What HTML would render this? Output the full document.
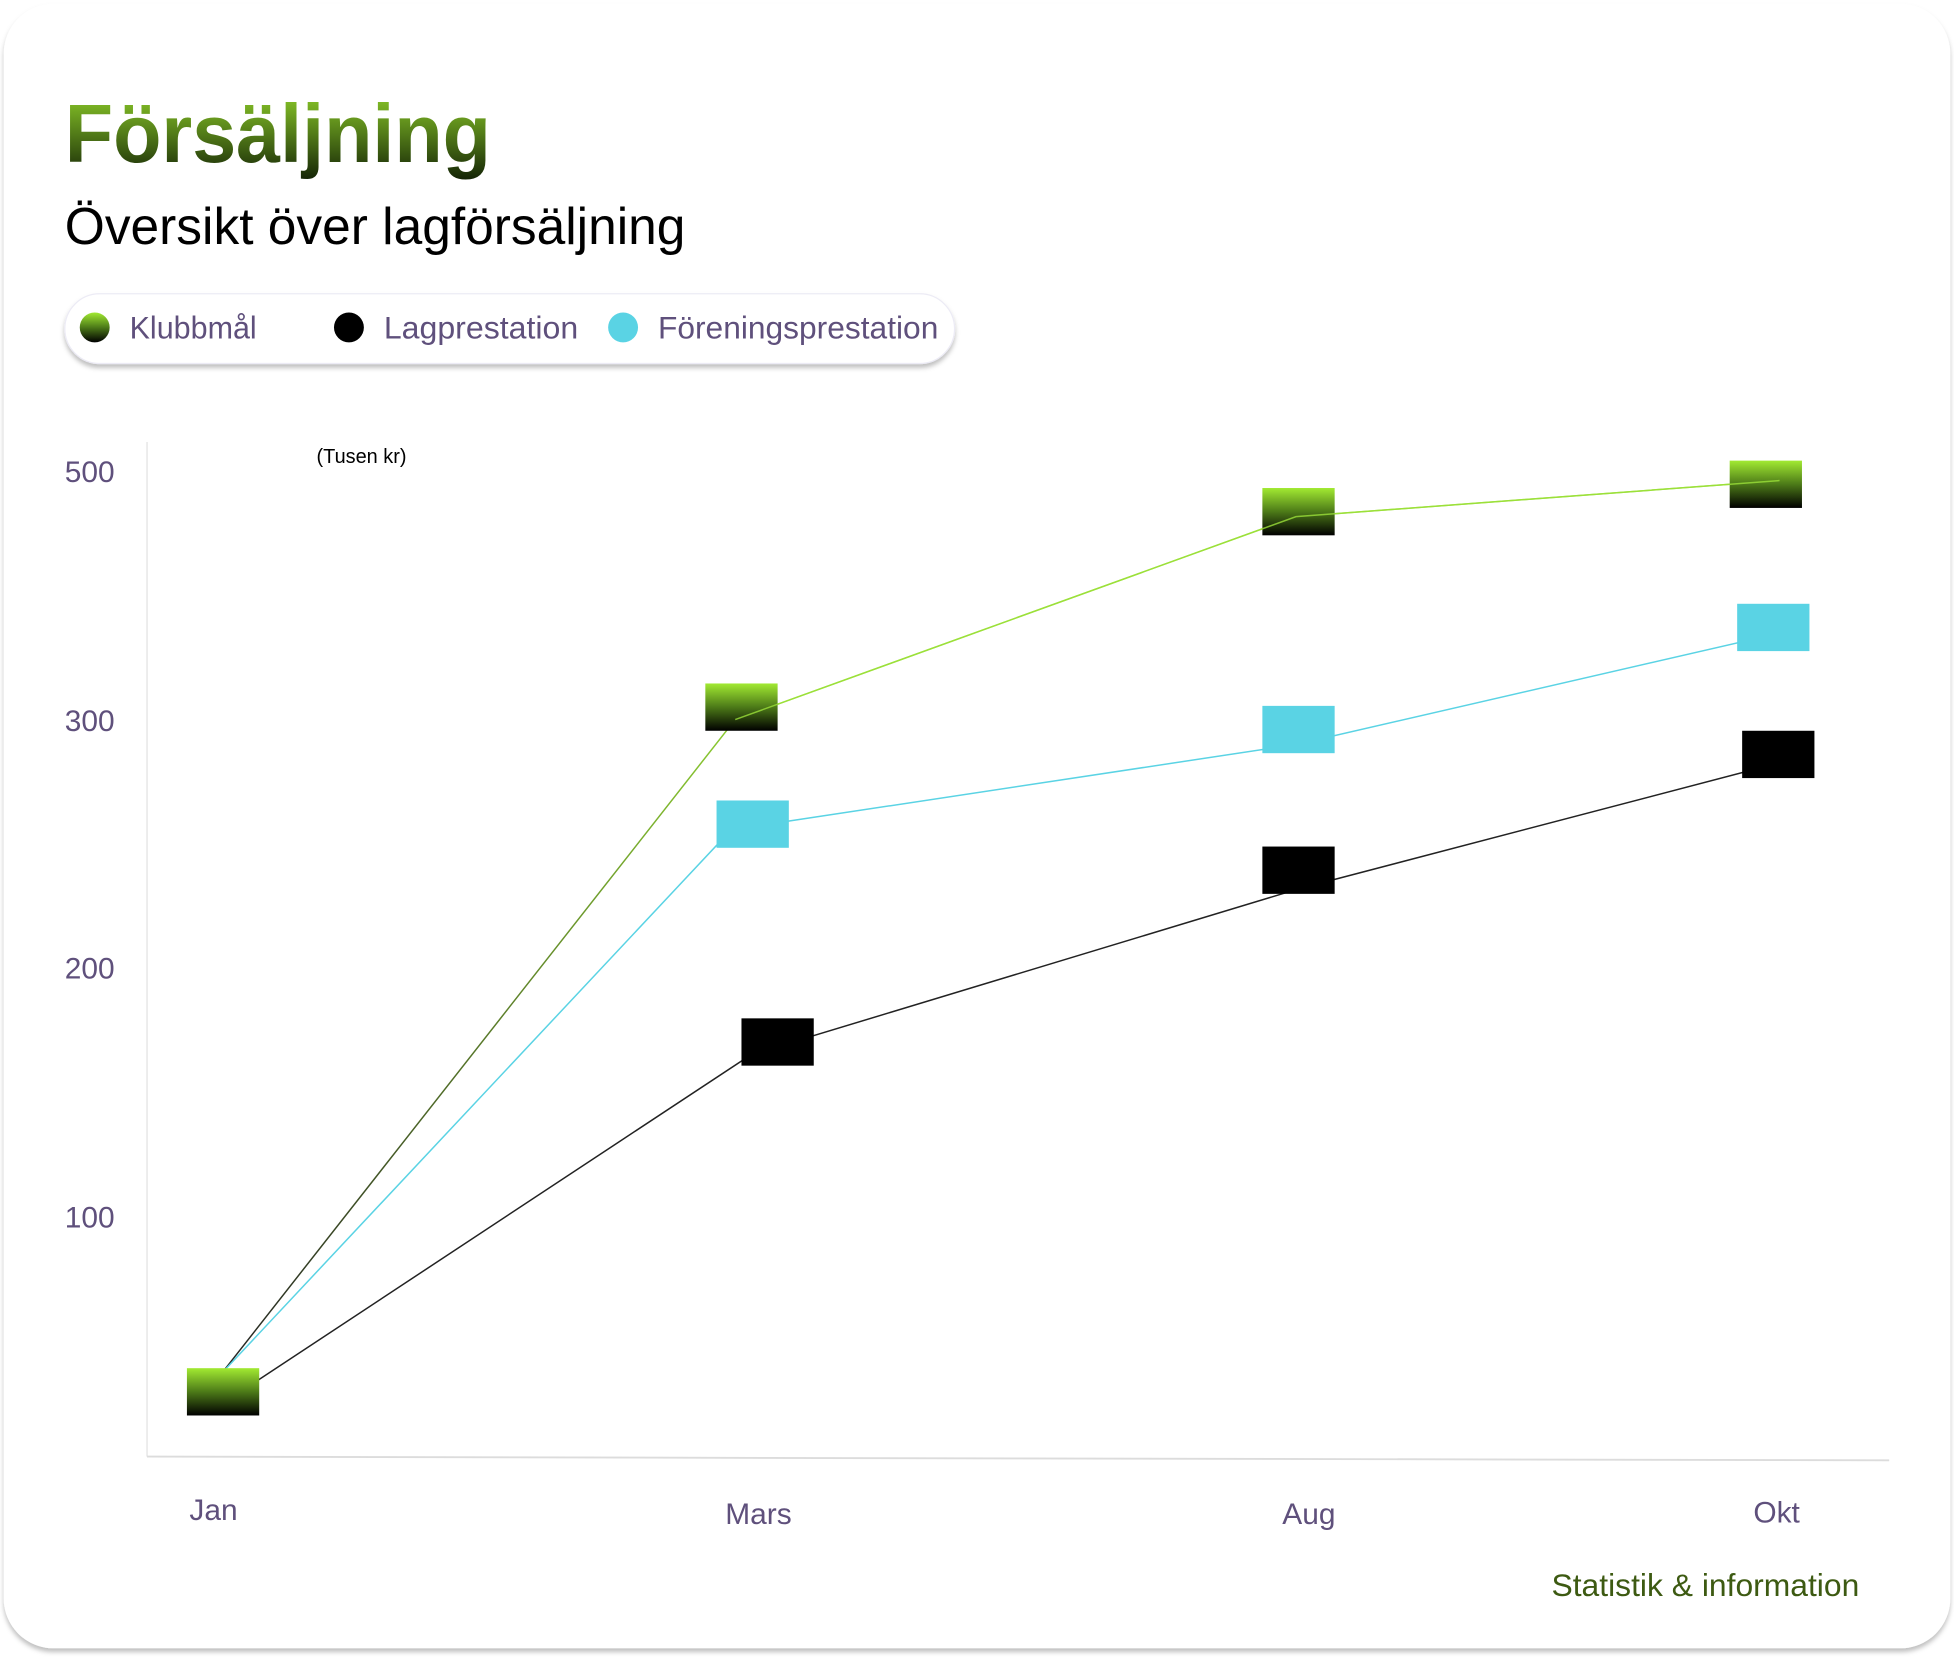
<!DOCTYPE html>
<html><head><meta charset="utf-8"><style>
html,body{margin:0;padding:0;background:#fff;width:1954px;height:1657px;overflow:hidden}
svg{display:block}
text{font-family:"Liberation Sans",sans-serif}
</style></head><body>
<svg width="1954" height="1657" viewBox="0 0 1568 1331" preserveAspectRatio="none" xmlns="http://www.w3.org/2000/svg">
<defs>
<linearGradient id="g" x1="0" y1="0" x2="0" y2="1"><stop offset="0" stop-color="#a2ea32"/><stop offset="0.5" stop-color="#4c7a18"/><stop offset="1" stop-color="#000"/></linearGradient>
<linearGradient id="tg" x1="0" y1="0" x2="0" y2="1"><stop offset="0" stop-color="#8fd02a"/><stop offset="1" stop-color="#142406"/></linearGradient>
<linearGradient id="lg" x1="0" y1="1" x2="0" y2="0"><stop offset="0" stop-color="#222"/><stop offset="1" stop-color="#8ccc30"/></linearGradient>
<filter id="sh" x="-10%" y="-10%" width="120%" height="130%"><feDropShadow dx="0" dy="3" stdDeviation="2" flood-color="#000" flood-opacity="0.25"/></filter>
</defs>
<rect x="3" y="3" width="1562" height="1321" rx="40" fill="#fff" filter="url(#sh)"/>
<text x="52" y="130" font-size="66" font-weight="bold" fill="url(#tg)" textLength="342" lengthAdjust="spacingAndGlyphs">Försäljning</text>
<text x="52" y="196" font-size="42" fill="#000" textLength="498" lengthAdjust="spacingAndGlyphs">Översikt över lagförsäljning</text>
<rect x="52" y="236" width="714" height="56" rx="28" fill="#fff" stroke="#ecebf5" filter="url(#sh)"/>
<circle cx="76" cy="263" r="12" fill="url(#g)"/>
<circle cx="280" cy="263" r="12" fill="#000"/>
<circle cx="500" cy="263" r="12" fill="#5ad3e4"/>
<g font-size="25" fill="#5f507c">
<text x="104" y="272" textLength="102" lengthAdjust="spacingAndGlyphs">Klubbmål</text>
<text x="308" y="272" textLength="156" lengthAdjust="spacingAndGlyphs">Lagprestation</text>
<text x="528" y="272" textLength="225" lengthAdjust="spacingAndGlyphs">Föreningsprestation</text>
</g>
<line x1="118" y1="355" x2="118" y2="1170" stroke="#e2e2e2"/>
<line x1="118" y1="1170" x2="1516" y2="1173" stroke="#dcdcdc" stroke-width="1.5"/>
<g font-size="24" fill="#5f507c">
<text x="52" y="387">500</text>
<text x="52" y="587">300</text>
<text x="52" y="786">200</text>
<text x="52" y="986">100</text>
<text x="152" y="1221">Jan</text>
<text x="582" y="1224">Mars</text>
<text x="1029" y="1224">Aug</text>
<text x="1407" y="1223">Okt</text>
</g>
<text x="254" y="372" font-size="16" fill="#000">(Tusen kr)</text>
<text x="1245" y="1282" font-size="25" fill="#3d5a12" textLength="247" lengthAdjust="spacingAndGlyphs">Statistik &amp; information</text>
<!-- lines -->
<polyline points="178,1103 590,578" fill="none" stroke="url(#lg)" stroke-width="1.2"/>
<polyline points="590,578 1040,415 1428,386" fill="none" stroke="#9be03a" stroke-width="1.2"/>
<polyline points="178,1103 576,678 630,660 1040,598 1422,510" fill="none" stroke="#5ad3e4" stroke-width="1.2"/>
<polyline points="205,1110 603,847 1042,714 1427,613" fill="none" stroke="#222" stroke-width="1.2"/>
<!-- markers -->
<rect x="566" y="549" width="58" height="38" fill="url(#g)"/>
<rect x="1013" y="392" width="58" height="38" fill="url(#g)"/>
<rect x="1388" y="370" width="58" height="38" fill="url(#g)"/>
<rect x="575" y="643" width="58" height="38" fill="#5ad3e4"/>
<rect x="1013" y="567" width="58" height="38" fill="#5ad3e4"/>
<rect x="1394" y="485" width="58" height="38" fill="#5ad3e4"/>
<rect x="595" y="818" width="58" height="38" fill="#000"/>
<rect x="1013" y="680" width="58" height="38" fill="#000"/>
<rect x="1398" y="587" width="58" height="38" fill="#000"/>
<rect x="150" y="1099" width="58" height="38" fill="url(#g)"/>
<polyline points="590,578 1040,415 1428,386" fill="none" stroke="#9be03a" stroke-width="1.2" opacity="0.8"/>
</svg>
</body></html>
